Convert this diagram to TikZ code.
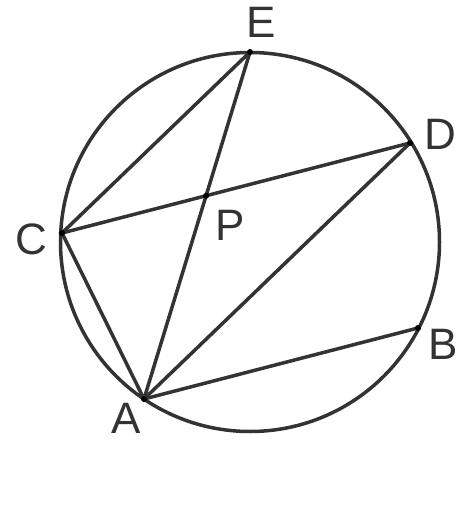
\documentclass[tikz,border=0pt]{standalone}
\usepackage{fontspec}
\setmainfont{Liberation Sans}
\begin{document}
\begin{tikzpicture}[x=1pt,y=-1pt,
  seg/.style={draw=black!80, line width=3.5pt, line cap=round, line join=round},
  lbl/.style={font=\fontsize{44}{44}\selectfont, text=black!80, inner sep=0pt},
  dot/.style={fill=black, circle, inner sep=0pt, minimum size=6pt}]
\useasboundingbox (0,0) rectangle (470,524);
\coordinate (O) at (250,242);
\coordinate (E) at (250,52);
\coordinate (D) at (410,143);
\coordinate (C) at (62,233);
\coordinate (B) at (418,328);
\coordinate (A) at (144,399);
\coordinate (P) at (intersection of A--E and C--D);
\draw[seg] (O) circle[radius=189.5];
\draw[seg] (E) -- (C);
\draw[seg] (E) -- (A);
\draw[seg] (C) -- (D);
\draw[seg] (C) -- (A);
\draw[seg] (A) -- (D);
\draw[seg] (A) -- (B);
\foreach \p in {A,B,C,D,E,P} \node[dot] at (\p) {};
\node[lbl] (lE) at (261,22) {E};
\node[lbl] (lD) at (440,134) {D};
\node[lbl] (lC) at (31,239) {C};
\node[lbl] (lP) at (230,225) {P};
\node[lbl] (lB) at (443,344) {B};
\node[lbl] (lA) at (126,418) {A};
\end{tikzpicture}
\end{document}
